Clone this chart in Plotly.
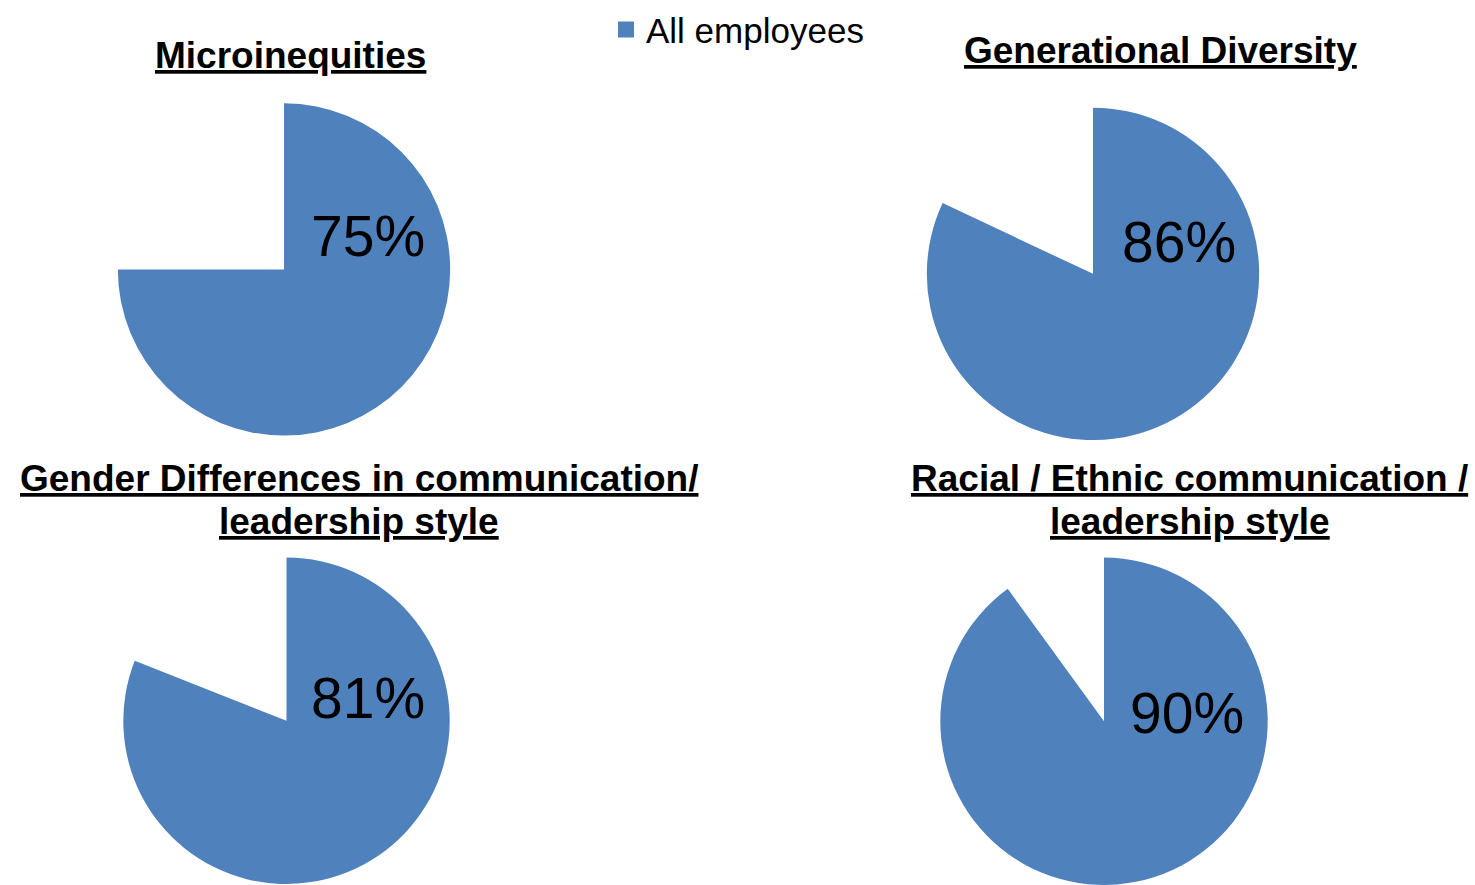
import plotly.graph_objects as go

W, H = 1475, 885
BLUE = "#4F81BD"
FONT = "Liberation Sans, Arial, sans-serif"

# -------------------------
# DATA
# -------------------------
series_name = "All employees"
titles = [
    ["Microinequities"],
    ["Generational Diversity"],
    ["Gender Differences in communication/", "leadership style"],
    ["Racial / Ethnic communication /", "leadership style"],
]
slice_values = [75, 82, 81, 90]          # drawn slice size
pct_labels = ["75%", "86%", "81%", "90%"]  # printed data labels

# -------------------------
# LAYOUT (pixels)
# -------------------------
pie_centers = [(284, 264.5), (1093, 269), (286.5, 719.5), (1104, 720)]
pie_radii = [167.5, 167.5, 164.5, 165]
label_pos = [(368, 230.5), (1179, 237), (368, 697), (1187, 712)]
title_x = [290, 1160, 358.5, 1189.5]
title_y = [[49], [43.5], [475.5, 518.5], [475.5, 518.5]]


def px(x, y):
    return x / W, 1 - y / H


def clamp(v):
    return min(1.0, max(0.0, v))


fig = go.Figure()

for i, val in enumerate(slice_values):
    cx, cy = pie_centers[i]
    r = pie_radii[i]
    fig.add_trace(go.Pie(
        values=[val, 100 - val],
        labels=[series_name, "rest"],
        marker=dict(colors=[BLUE, "rgba(0,0,0,0)"], line=dict(width=0)),
        sort=False,
        direction="clockwise",
        rotation=0,
        textinfo="none",
        hoverinfo="skip",
        showlegend=False,
        domain=dict(x=[clamp((cx - r) / W), clamp((cx + r) / W)],
                    y=[clamp(1 - (cy + r) / H), clamp(1 - (cy - r) / H)]),
    ))

# legend entry (pies keep their own legend off)
fig.add_trace(go.Scatter(
    x=[None], y=[None], mode="markers", name=series_name,
    marker=dict(symbol="square", size=16, color=BLUE),
    showlegend=True,
))

annotations = []
for i, txt in enumerate(pct_labels):
    x, y = px(*label_pos[i])
    annotations.append(dict(
        x=x, y=y, xref="paper", yref="paper", text=txt, showarrow=False,
        xanchor="center", yanchor="middle",
        font=dict(family=FONT, size=57, color="black"),
    ))

for i, lines in enumerate(titles):
    for line, ly in zip(lines, title_y[i]):
        x, y = px(title_x[i], ly)
        annotations.append(dict(
            x=x, y=y, xref="paper", yref="paper", text="<b>%s</b>" % line,
            showarrow=False, xanchor="center", yanchor="middle",
            font=dict(family=FONT, size=37, color="black", lineposition="under"),
        ))

lx, ly = px(606, 23)
fig.update_layout(
    width=W, height=H,
    margin=dict(l=0, r=0, t=0, b=0),
    paper_bgcolor="white",
    plot_bgcolor="white",
    xaxis=dict(visible=False),
    yaxis=dict(visible=False),
    showlegend=True,
    legend=dict(x=lx, y=ly, xanchor="left", yanchor="middle",
                font=dict(family=FONT, size=35, color="black"),
                bgcolor="rgba(0,0,0,0)", itemwidth=30),
    annotations=annotations,
)

fig.write_html("out.html", config={"displayModeBar": False},
               post_script="document.body.style.margin='0';")
